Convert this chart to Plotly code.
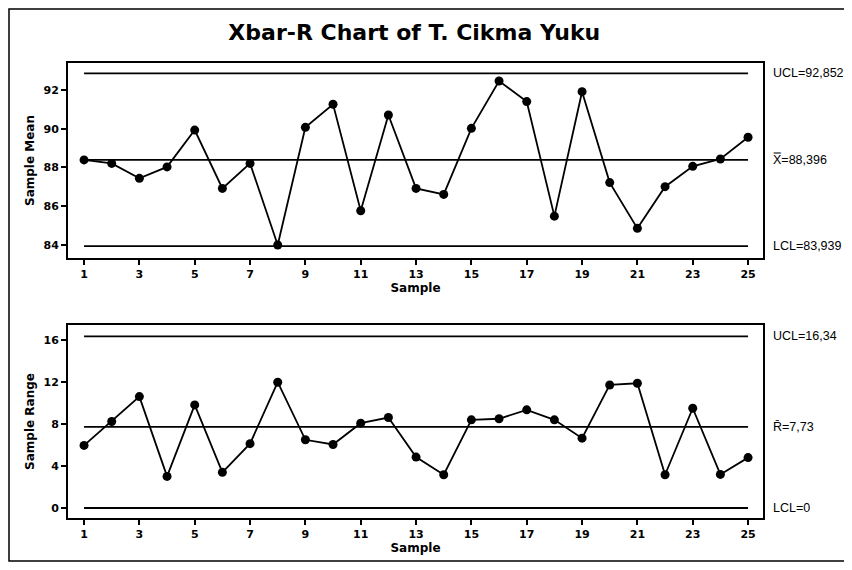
import plotly.graph_objects as go

samples = list(range(1, 26))
sample_mean = [88.39, 88.21, 87.44, 88.03, 89.93, 86.92, 88.21, 84.0, 90.07, 91.26,
               85.77, 90.71, 86.92, 86.61, 90.02, 92.46, 91.40, 85.49, 91.91, 87.22,
               84.86, 87.01, 88.06, 88.44, 89.56]
sample_range = [5.96, 8.24, 10.61, 3.01, 9.82, 3.4, 6.13, 11.98, 6.5, 6.05,
                8.08, 8.62, 4.85, 3.17, 8.4, 8.5, 9.35, 8.4, 6.65, 11.72,
                11.88, 3.17, 9.5, 3.2, 4.8]
xbar_ucl, xbar_cl, xbar_lcl = 92.852, 88.396, 83.939
r_ucl, r_cl, r_lcl = 16.34, 7.73, 0
xbar_labels = ["UCL=92,852", "X\u033f=88,396", "LCL=83,939"]
r_labels = ["UCL=16,34", "R\u0304=7,73", "LCL=0"]
x_ticks = list(range(1, 26, 2))
mean_ticks = [84, 86, 88, 90, 92]
range_ticks = [0, 4, 8, 12, 16]

FONT = "DejaVu Sans"
fig = go.Figure()

def add_limits(vals, xa, ya):
    for v in vals:
        fig.add_trace(go.Scatter(x=[samples[0], samples[-1]], y=[v, v], mode="lines",
                                 line=dict(color="black", width=1.8), xaxis=xa, yaxis=ya,
                                 hoverinfo="skip", showlegend=False))

add_limits([xbar_ucl, xbar_cl, xbar_lcl], "x", "y")
add_limits([r_ucl, r_cl, r_lcl], "x2", "y2")

fig.add_trace(go.Scatter(x=samples, y=sample_mean, mode="lines+markers",
                         line=dict(color="black", width=1.8),
                         marker=dict(color="black", size=9), xaxis="x", yaxis="y",
                         showlegend=False))
fig.add_trace(go.Scatter(x=samples, y=sample_range, mode="lines+markers",
                         line=dict(color="black", width=1.8),
                         marker=dict(color="black", size=9), xaxis="x2", yaxis="y2",
                         showlegend=False))

axis_common = dict(showgrid=False, zeroline=False, showline=True, linecolor="black",
                   linewidth=1.8, mirror=True, ticks="outside", ticklen=5,
                   tickcolor="black", tickwidth=1.5, automargin=False,
                   tickfont=dict(family=FONT, size=11, color="black", weight="bold"))

title_font = dict(family=FONT, size=12, color="black", weight="bold")

# The page body adds an 8px margin, so the figure is sized to fit inside it.
fig.update_layout(
    width=836, height=554,
    paper_bgcolor="white", plot_bgcolor="white",
    margin=dict(l=60, r=81, t=55, b=44, autoexpand=False),
    title=dict(text="Xbar-R Chart of T. Cikma Yuku", x=0.486, xanchor="center",
               y=0.957, yanchor="middle",
               font=dict(family=FONT, size=22, color="black", weight="bold")),
    xaxis=dict(axis_common, domain=[0, 1], range=[0.42, 25.54], tickvals=x_ticks,
               anchor="y", title=dict(text="Sample", standoff=3, font=title_font)),
    yaxis=dict(axis_common, domain=[0.5714, 1.0], range=[83.33, 93.39], tickvals=mean_ticks,
               anchor="x", title=dict(text="Sample Mean", standoff=6, font=title_font)),
    xaxis2=dict(axis_common, domain=[0, 1], range=[0.42, 25.54], tickvals=x_ticks,
                anchor="y2", title=dict(text="Sample", standoff=3, font=title_font)),
    yaxis2=dict(axis_common, domain=[0, 0.4242], range=[-0.95, 17.43], tickvals=range_ticks,
                anchor="x2", title=dict(text="Sample Range", standoff=6, font=title_font)),
)

ann_font = dict(family="Liberation Sans", size=12.5, color="black")
for v, t in zip([xbar_ucl, xbar_cl, xbar_lcl], xbar_labels):
    fig.add_annotation(x=1.0115, xref="paper", y=v, yref="y", text=t, showarrow=False,
                       xanchor="left", yanchor="middle", font=ann_font)
for v, t in zip([r_ucl, r_cl, r_lcl], r_labels):
    fig.add_annotation(x=1.0115, xref="paper", y=v, yref="y2", text=t, showarrow=False,
                       xanchor="left", yanchor="middle", font=ann_font)

# outer chart border (open on the right, as in the reference)
fig.add_shape(type="path", xref="paper", yref="paper",
              path="M 1.3,-0.0945 L -0.0849,-0.0945 L -0.0849,1.1187 L 1.3,1.1187",
              line=dict(color="black", width=1.5), layer="below")

fig.write_html("out.html")
